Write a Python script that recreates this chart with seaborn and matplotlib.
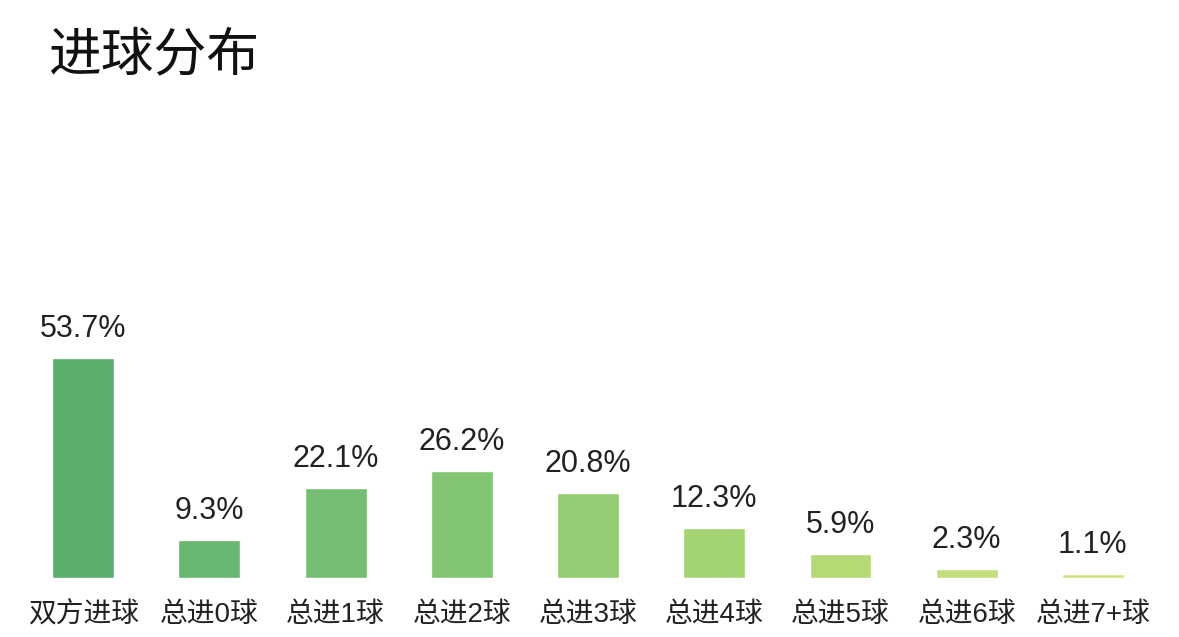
import pandas as pd
import seaborn as sns
import matplotlib.pyplot as plt
from matplotlib.colors import LinearSegmentedColormap

categories = ["双方进球", "总进0球", "总进1球", "总进2球", "总进3球",
              "总进4球", "总进5球", "总进6球", "总进7+球"]
values = [53.7, 9.3, 22.1, 26.2, 20.8, 12.3, 5.9, 2.3, 1.1]
value_labels = ["53.7%", "9.3%", "22.1%", "26.2%", "20.8%",
                "12.3%", "5.9%", "2.3%", "1.1%"]

df = pd.DataFrame({"category": categories, "value": values})

sns.set_style("white")
plt.rcParams['font.family'] = ['Liberation Sans', 'Noto Sans CJK SC', 'DejaVu Sans']

# green -> yellow-green gradient across the bars
cmap = LinearSegmentedColormap.from_list("g", ["#5cae6c", "#7cc273", "#a9d672", "#cfe47f"])
colors = [cmap(i / (len(categories) - 1)) for i in range(len(categories))]

fig = plt.figure(figsize=(11.79, 6.37), dpi=100)
ax = fig.add_axes([0.017, 0.0926, 0.9635, 0.642])
sns.barplot(data=df, x="category", y="value", hue="category", palette=colors,
            legend=False, width=0.49, saturation=1, ax=ax)

ax.set_ylim(0, 100)
ax.set_xlim(-0.5, len(categories) - 0.5)
for i, v in enumerate(values):
    ax.annotate(value_labels[i], (i, v), xytext=(0, 14), textcoords="offset pixels",
                ha="center", va="bottom", fontsize=22, color="#222222",
                annotation_clip=False)

ax.set_xlabel("")
ax.set_ylabel("")
ax.set_yticks([])
ax.tick_params(axis="x", length=0, pad=17, labelsize=20, labelcolor="#222222")
sns.despine(ax=ax, left=True, bottom=True)

fig.text(48 / 1179, 1 - 56 / 637, "进球分布", fontsize=38, color="#111111",
         ha="left", va="center")

plt.savefig("out.png", dpi=100)
